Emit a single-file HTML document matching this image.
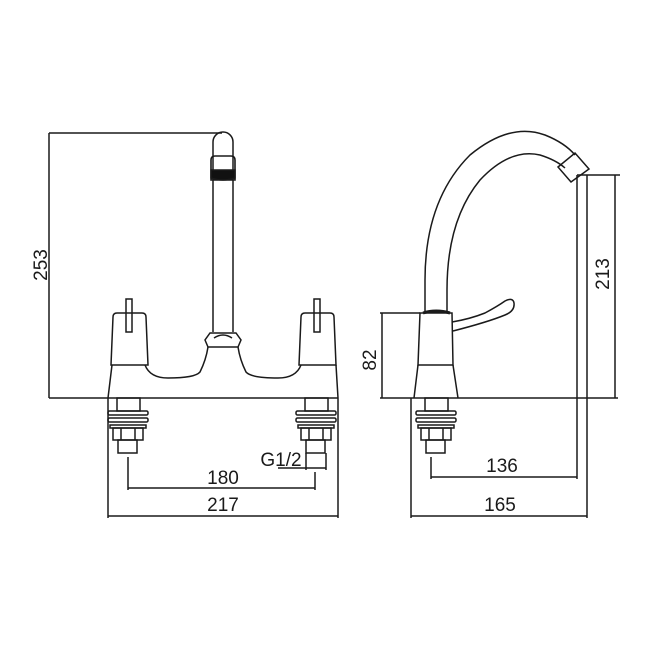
<!DOCTYPE html>
<html><head><meta charset="utf-8"><style>
html,body{margin:0;padding:0;background:#fff;}
svg{display:block;}
text{font-family:"Liberation Sans",Arial,sans-serif;font-size:19px;fill:#1a1a1a;}
</style></head><body>
<svg width="650" height="650" viewBox="0 0 650 650" xmlns="http://www.w3.org/2000/svg">
<g fill="none" stroke="#1a1a1a" stroke-width="1.5">
<line x1="49" y1="133" x2="222" y2="133"/>
<line x1="49" y1="133" x2="49" y2="398"/>
<line x1="49" y1="398" x2="338" y2="398"/>
<path d="M213 332 V142 A10 10 0 0 1 233 142 V332"/>
<path d="M211 180 V160 Q211 156 215 156 H231 Q235 156 235 160 V180 Z" stroke-width="1.6"/>
<path d="M211 170 H235 V178 Q223 182 211 178 Z" fill="#111"/>
<path d="M210 333 H236 L241 340 L238 347 H208 L205 340 Z"/>
<path d="M214 338 Q223 332 232 338"/>
<path d="M113 317 Q113 313 117 313 H142 Q146 313 146 317 L148 365 H111 Z"/>
<rect x="126" y="299" width="6" height="33"/>
<path d="M301 317 Q301 313 305 313 H330 Q334 313 334 317 L336 365 H299 Z"/>
<rect x="314" y="299" width="6" height="33"/>
<path d="M112 365 L108 398 M336 365 L338 398"/>
<path d="M145 365 Q150 378 168 378 Q195 378 200 372 Q206 360 208 347"/>
<path d="M238 347 Q240 360 246 372 Q251 378 278 378 Q296 378 301 365"/>
<g>
<rect x="117" y="398" width="23" height="13"/>
<rect x="108" y="411" width="40" height="4" rx="1.5"/>
<rect x="108" y="418" width="40" height="4" rx="1.5"/>
<rect x="110" y="425" width="36" height="3"/>
<rect x="113" y="428" width="30" height="12"/>
<line x1="121" y1="428" x2="121" y2="440"/><line x1="135" y1="428" x2="135" y2="440"/>
<rect x="118" y="440" width="19" height="13"/>
</g>
<g transform="translate(188,0)">
<rect x="117" y="398" width="23" height="13"/>
<rect x="108" y="411" width="40" height="4" rx="1.5"/>
<rect x="108" y="418" width="40" height="4" rx="1.5"/>
<rect x="110" y="425" width="36" height="3"/>
<rect x="113" y="428" width="30" height="12"/>
<line x1="121" y1="428" x2="121" y2="440"/><line x1="135" y1="428" x2="135" y2="440"/>
<rect x="118" y="440" width="19" height="13"/>
</g>
<line x1="128" y1="457" x2="128" y2="490"/>
<line x1="128" y1="488" x2="315" y2="488"/>
<line x1="315" y1="472" x2="315" y2="490"/>
<line x1="108" y1="398" x2="108" y2="518"/>
<line x1="338" y1="398" x2="338" y2="518"/>
<line x1="108" y1="516" x2="338" y2="516"/>
<line x1="278" y1="468" x2="326" y2="468"/>
<line x1="326" y1="453" x2="326" y2="470"/>
<line x1="306" y1="453" x2="306" y2="470"/>

<line x1="380" y1="398" x2="618" y2="398"/>
<line x1="382" y1="313" x2="382" y2="398"/>
<line x1="380" y1="313" x2="420" y2="313"/>
<path d="M425 313 V280 Q425 200 470 155 Q510 122 545 135 Q565 143 575 155"/>
<path d="M447 313 V290 Q447 220 480 180 Q510 148 540 155 Q556 160 565 168"/>
<path d="M558 167 L575 153 L589 169 L571 182 Z"/>
<path d="M420 313 H452 L453 365 H418 Z"/>
<path d="M423 313 Q436 309 450 313" stroke-width="3"/>
<path d="M452 322 Q470 319 485 313 Q498 306 505 301 Q513 297 514 303 Q515 311 505 315 Q488 322 453 331"/>
<path d="M418 365 L414 398 M453 365 L458 398"/>
<g transform="translate(308,0)">
<rect x="117" y="398" width="23" height="13"/>
<rect x="108" y="411" width="40" height="4" rx="1.5"/>
<rect x="108" y="418" width="40" height="4" rx="1.5"/>
<rect x="110" y="425" width="36" height="3"/>
<rect x="113" y="428" width="30" height="12"/>
<line x1="121" y1="428" x2="121" y2="440"/><line x1="135" y1="428" x2="135" y2="440"/>
<rect x="118" y="440" width="19" height="13"/>
</g>
<line x1="577" y1="175" x2="620" y2="175"/>
<line x1="615" y1="175" x2="615" y2="398"/>
<line x1="577" y1="175" x2="577" y2="479"/>
<line x1="587" y1="175" x2="587" y2="518"/>
<line x1="431" y1="457" x2="431" y2="479"/>
<line x1="431" y1="477" x2="577" y2="477"/>
<line x1="411" y1="398" x2="411" y2="518"/>
<line x1="411" y1="516" x2="587" y2="516"/>
</g>
<text x="42" y="265" text-anchor="middle" transform="rotate(-90 42 265)" dominant-baseline="middle">253</text>
<text x="371" y="360" text-anchor="middle" transform="rotate(-90 371 360)" dominant-baseline="middle">82</text>
<text x="604" y="274" text-anchor="middle" transform="rotate(-90 604 274)" dominant-baseline="middle">213</text>
<text x="281" y="466" text-anchor="middle">G1/2</text>
<text x="223" y="484" text-anchor="middle">180</text>
<text x="223" y="511" text-anchor="middle">217</text>
<text x="502" y="472" text-anchor="middle">136</text>
<text x="500" y="511" text-anchor="middle">165</text>
</svg>
</body></html>
